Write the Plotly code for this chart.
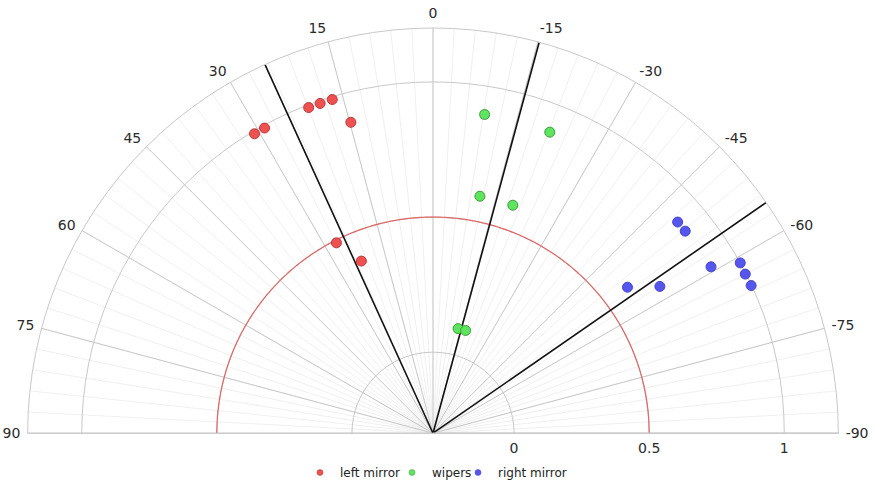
import plotly.graph_objects as go

# Detection angles (degrees, positive = left of straight ahead) and normalised range
left_theta = [30.8, 28.9, 20.9, 18.9, 16.8, 14.8, 26.9, 22.6]
left_r = [0.99, 0.99, 0.99, 0.99, 0.99, 0.89, 0.49, 0.39]

wipers_theta = [-9.2, -21.2, -11.2, -19.3, -13.5, -17.6]
wipers_r = [0.895, 0.895, 0.594, 0.594, 0.098, 0.099]

right_theta = [-49.2, -51.3, -59.1, -61.0, -63.0, -65.1, -53.1, -57.1]
right_r = [0.896, 0.896, 0.899, 1.0, 0.997, 0.998, 0.6, 0.7]

# Mean bearing of each object group
bearing_theta = [24.5, -15.2, -55.3]

# Reference range ring
ring_r = 0.5

r_min, r_max = -0.3, 1.2
angle_ticks = list(range(90, -91, -15))
angle_labels = [str(a) for a in angle_ticks]
radial_ticks = [0, 0.5, 1]
radial_labels = ["0", "0.5", "1"]

FONT = "DejaVu Sans, Verdana, sans-serif"
TXT = "#2a2a2a"
MAJOR = "#c8c8c8"
MINOR = "#f0f0f0"

fig = go.Figure()

# Fine angular grid lives on its own (bottom) polar subplot
fig.add_trace(go.Scatterpolar(r=[None], theta=[None], subplot="polar",
                              showlegend=False, hoverinfo="skip"))

# Reference ring
ring_theta = [t / 2 for t in range(-180, 181)]
fig.add_trace(go.Scatterpolar(
    r=[ring_r] * len(ring_theta), theta=ring_theta, mode="lines",
    line=dict(color="#e06666", width=1.2), subplot="polar2",
    showlegend=False, hoverinfo="skip"))

# Bearing lines from the origin to the outer edge
for b in bearing_theta:
    fig.add_trace(go.Scatterpolar(
        r=[r_min, r_max], theta=[b, b], mode="lines",
        line=dict(color="#111111", width=1.6), subplot="polar2",
        showlegend=False, hoverinfo="skip"))

series = [
    ("left mirror", left_theta, left_r, "#ef5050", "#b83a3a"),
    ("wipers", wipers_theta, wipers_r, "#5ee45e", "#3c9e3c"),
    ("right mirror", right_theta, right_r, "#5656ee", "#4646c8"),
]

for name, th, rr, fill, edge in series:
    fig.add_trace(go.Scatterpolar(
        r=rr, theta=th, mode="markers", name=name, subplot="polar2",
        marker=dict(size=10, color=fill, line=dict(color=edge, width=1)),
        showlegend=False))

# One small legend per series so the key stays compact
legend_ids = ["legend", "legend2", "legend3"]
legend_left_px = [300, 392, 458]
for (name, th, rr, fill, edge), lid in zip(series, legend_ids):
    fig.add_trace(go.Scatterpolar(
        r=[None], theta=[None], mode="markers", name=name, subplot="polar2",
        marker=dict(size=6, color=fill, line=dict(color=edge, width=0.5)),
        showlegend=True, legend=lid))

domain = dict(x=[26 / 874, 840 / 874], y=[1 - 435 / 487, 1 - 28 / 487])

legend_style = dict(orientation="h", y=0.025, yanchor="middle",
                    xanchor="left", font=dict(size=12, color="#222222"),
                    itemwidth=30, bgcolor="rgba(0,0,0,0)", borderwidth=0)

fig.update_layout(
    width=874, height=487,
    margin=dict(l=0, r=0, t=0, b=0),
    paper_bgcolor="white",
    font=dict(family=FONT, size=14, color=TXT),
    polar=dict(
        domain=domain, sector=[0, 180], bgcolor="white",
        angularaxis=dict(rotation=90, direction="counterclockwise",
                         tickmode="linear", tick0=0, dtick=3,
                         showgrid=True, gridcolor=MINOR, gridwidth=1,
                         showticklabels=False, ticks="", showline=False),
        radialaxis=dict(range=[r_min, r_max], showgrid=False,
                        showticklabels=False, ticks="", showline=False),
    ),
    polar2=dict(
        domain=domain, sector=[0, 180], bgcolor="rgba(0,0,0,0)",
        angularaxis=dict(rotation=90, direction="counterclockwise",
                         tickmode="array", tickvals=angle_ticks,
                         ticktext=angle_labels,
                         ticks="outside", ticklen=4, tickcolor="rgba(0,0,0,0)",
                         showgrid=True, gridcolor=MAJOR, gridwidth=1,
                         showline=True, linecolor=MAJOR, linewidth=1,
                         tickfont=dict(size=14, color=TXT)),
        radialaxis=dict(range=[r_min, r_max], angle=0, side="clockwise",
                        tickmode="array", tickvals=radial_ticks,
                        ticktext=radial_labels,
                        ticks="outside", ticklen=2, tickcolor="rgba(0,0,0,0)",
                        showgrid=True, gridcolor=MAJOR, gridwidth=1,
                        showline=True, linecolor=MAJOR, linewidth=1,
                        tickfont=dict(size=14, color=TXT)),
    ),
    legend=dict(x=legend_left_px[0] / 874, **legend_style),
    legend2=dict(x=legend_left_px[1] / 874, **legend_style),
    legend3=dict(x=legend_left_px[2] / 874, **legend_style),
)

fig.write_html("out.html")
